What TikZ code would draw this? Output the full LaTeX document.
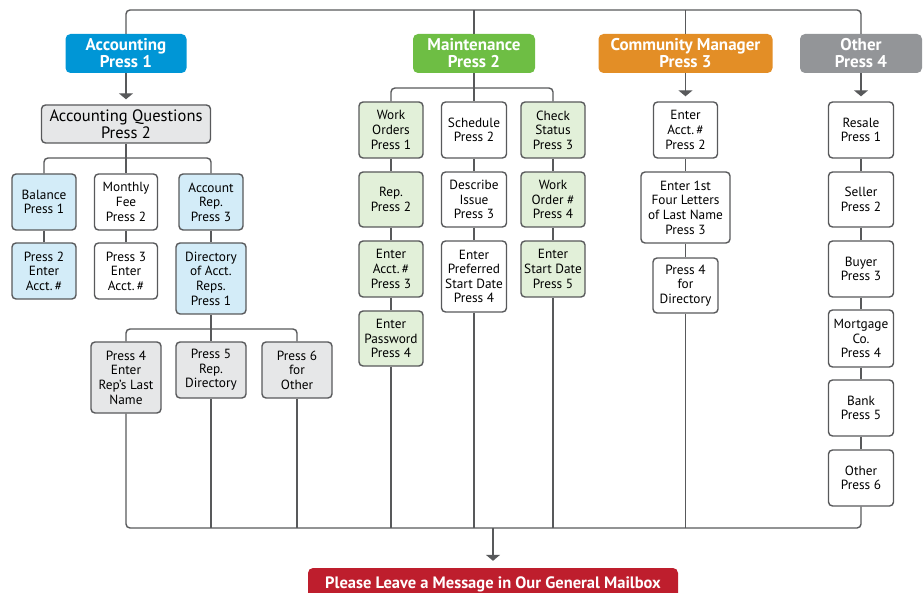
\documentclass[tikz,border=0pt]{standalone}
\usepackage{fontspec}
\setmainfont{PT Sans}
\usetikzlibrary{arrows.meta}

\definecolor{linegray}{RGB}{88,89,91}
\definecolor{accblue}{RGB}{0,150,214}
\definecolor{mntgreen}{RGB}{110,190,68}
\definecolor{cmorange}{RGB}{227,142,38}
\definecolor{othgray}{RGB}{147,149,152}
\definecolor{msgred}{RGB}{190,30,45}
\definecolor{lightblue}{RGB}{211,236,248}
\definecolor{lightgreen}{RGB}{226,240,217}
\definecolor{lightgray}{RGB}{230,231,232}

\begin{document}
\begin{tikzpicture}[x=1pt,y=-1pt,>={Triangle[width=14pt,length=6pt]},
  link/.style={draw=linegray,line width=1.4pt,rounded corners=4pt},
  box/.style={draw=linegray,line width=1.4pt,rounded corners=4pt,fill=white,
    align=center,inner sep=0pt,font=\fontsize{13.3}{14.6}\selectfont,
    minimum width=64pt,minimum height=56pt},
  head/.style={rounded corners=5pt,align=center,inner sep=0pt,text=white,
    font=\bfseries\fontsize{17}{17}\selectfont,minimum height=39pt},
  ]
  \clip (0,0) rectangle (923,593);
  \useasboundingbox (0,0) rectangle (923,593);

  % level coordinates
  \coordinate (top) at (0,10);
  \coordinate (bot) at (0,528);
  \coordinate (accbr) at (0,158);
  \coordinate (dirbr) at (0,329);
  \coordinate (mntbr) at (0,88);

  % menu headers
  \node[head,fill=accblue,minimum width=121pt] (acc) at (126,53.5) {Accounting\\Press 1};
  \node[head,fill=mntgreen,minimum width=122pt] (mnt) at (474,53.5) {Maintenance\\Press 2};
  \node[head,fill=cmorange,minimum width=174pt] (cmg) at (685.5,53.5) {Community Manager\\Press 3};
  \node[head,fill=othgray,minimum width=122pt] (oth) at (861,53.5) {Other\\Press 4};

  % accounting
  \node[box,fill=lightgray,minimum width=169pt,minimum height=38pt,
    font=\fontsize{16.5}{16.5}\selectfont] (aq) at (126,124) {Accounting Questions\\Press 2};
  \node[box,fill=lightblue] (bal) at (44,202) {Balance\\Press 1};
  \node[box,minimum width=63pt] (fee) at (126,202) {Monthly\\Fee\\Press 2};
  \node[box,fill=lightblue] (rep) at (211,202) {Account\\Rep.\\Press 3};
  \node[box,fill=lightblue] (bal2) at (44,271) {Press 2\\Enter\\Acct.\,\#};
  \node[box,minimum width=63pt] (fee2) at (126,271) {Press 3\\Enter\\Acct.\,\#};
  \node[box,fill=lightblue,minimum width=70pt,minimum height=71pt] (dir) at (211,278.5) {Directory\\of Acct.\\Reps.\\Press 1};
  \node[box,fill=lightgray,minimum width=70pt,minimum height=71pt] (last) at (126,377.5) {Press 4\\Enter\\Rep's Last\\Name};
  \node[box,fill=lightgray,minimum width=70pt] (rdir) at (211,370) {Press 5\\Rep.\\Directory};
  \node[box,fill=lightgray,minimum width=70pt] (poth) at (297,370) {Press 6\\for\\Other};

  % maintenance
  \node[box,fill=lightgreen] (m1) at (391,130) {Work\\Orders\\Press 1};
  \node[box,fill=lightgreen,minimum height=55pt] (m2) at (391,199.5) {Rep.\\Press 2};
  \node[box,fill=lightgreen] (m3) at (391,269) {Enter\\Acct.\,\#\\Press 3};
  \node[box,fill=lightgreen,minimum height=55pt] (m4) at (391,338.5) {Enter\\Password\\Press 4};
  \node[box,minimum width=65pt] (s1) at (474,130) {Schedule\\Press 2};
  \node[box,minimum width=65pt,minimum height=55pt] (s2) at (474,199.5) {Describe\\Issue\\Press 3};
  \node[box,minimum width=65pt,minimum height=71pt] (s3) at (474,276.5) {Enter\\Preferred\\Start Date\\Press 4};
  \node[box,fill=lightgreen] (k1) at (553,130) {Check\\Status\\Press 3};
  \node[box,fill=lightgreen,minimum height=55pt] (k2) at (553,199.5) {Work\\Order \#\\Press 4};
  \node[box,fill=lightgreen] (k3) at (553,269) {Enter\\Start Date\\Press 5};

  % community manager
  \node[box] (c1) at (685.5,130) {Enter\\Acct.\,\#\\Press 2};
  \node[box,minimum width=89pt,minimum height=71pt] (c2) at (685.5,207.5) {Enter 1st\\Four Letters\\of Last Name\\Press 3};
  \node[box,minimum width=65pt,minimum height=55pt] (c3) at (685.5,285.5) {Press 4\\for\\Directory};

  % other
  \node[box,minimum width=65pt] (o1) at (861,130) {Resale\\Press 1};
  \node[box,minimum width=65pt,minimum height=55pt] (o2) at (861,199.5) {Seller\\Press 2};
  \node[box,minimum width=65pt] (o3) at (861,269) {Buyer\\Press 3};
  \node[box,minimum width=65pt,minimum height=57pt] (o4) at (861,338.5) {Mortgage\\Co.\\Press 4};
  \node[box,minimum width=65pt] (o5) at (861,408) {Bank\\Press 5};
  \node[box,minimum width=65pt] (o6) at (861,478) {Other\\Press 6};

  % mailbox
  \node[rounded corners=5pt,fill=msgred,text=white,inner sep=0pt,
    font=\bfseries\fontsize{16.5}{16.5}\selectfont,minimum width=370pt,
    minimum height=32pt] (mail) at (493,584) {Please Leave a Message in Our General Mailbox};
  \coordinate (botmid) at (bot -| mail);

  % top bus
  \draw[link] (acc.north) |- (top -| mnt) -| (oth.north);
  \draw[link] (mnt) -- (mnt |- top);
  \draw[link] (cmg) -- (cmg |- top);

  % accounting links
  \draw[link,->,shorten >=5pt] (acc) -- (aq);
  \draw[link] (aq) -- (fee);
  \draw[link] (bal.north) |- (accbr -| fee) -| (rep.north);
  \foreach \a/\b in {bal/bal2,fee/fee2,rep/dir}
    \draw[link] (\a) -- (\b);
  \draw[link] (dir) -- (rdir);
  \draw[link] (last.north) |- (dirbr -| rdir) -| (poth.north);

  % maintenance links
  \draw[link] (mnt) -- (s1);
  \draw[link] (m1.north) |- (mntbr -| mnt) -| (k1.north);
  \foreach \a/\b in {m1/m2,m2/m3,m3/m4,s1/s2,s2/s3,k1/k2,k2/k3}
    \draw[link] (\a) -- (\b);

  % community manager and other links
  \draw[link,->,shorten >=5pt] (cmg) -- (c1);
  \draw[link,->,shorten >=5pt] (oth) -- (o1);
  \foreach \a/\b in {c1/c2,c2/c3,o1/o2,o2/o3,o3/o4,o4/o5,o5/o6}
    \draw[link] (\a) -- (\b);

  % bottom bus
  \draw[link] (last.south) |- (botmid) -| (o6.south);
  \foreach \n in {rdir,poth,m4,s3,k3,c3}
    \draw[link] (\n) -- (\n |- bot);
  \draw[link,->,shorten >=7pt] (botmid) -- (mail);
\end{tikzpicture}
\end{document}
